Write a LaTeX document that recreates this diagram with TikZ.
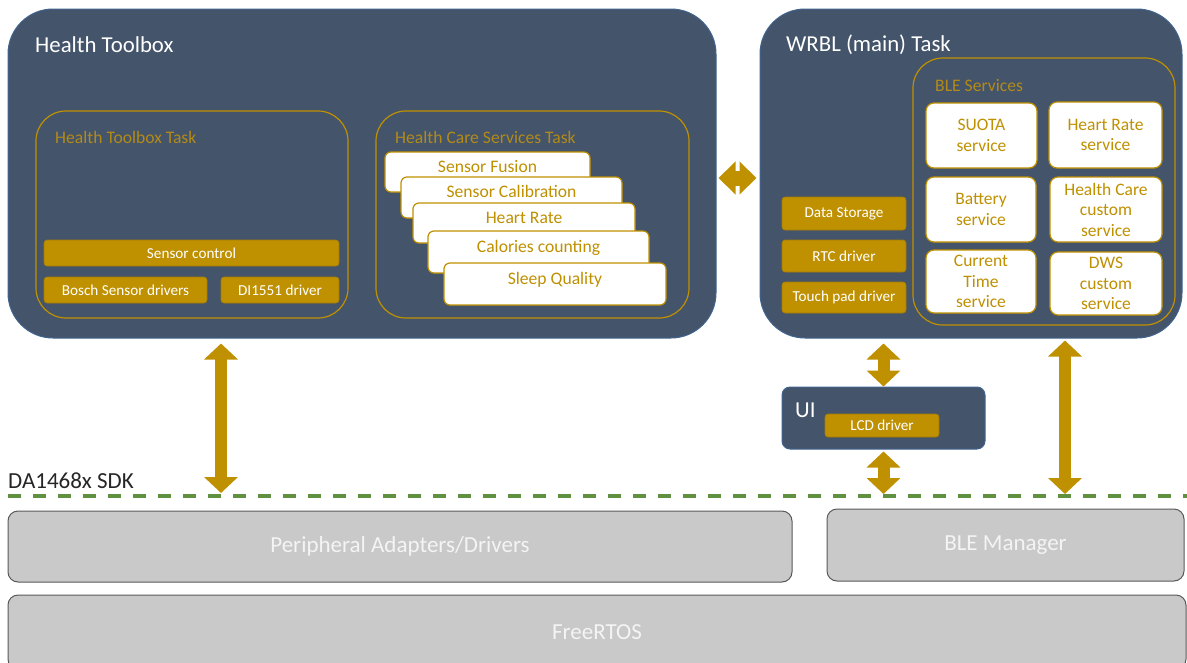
\documentclass[tikz,border=0pt]{standalone}
\usepackage{fontspec}
\setmainfont{Carlito}
\usetikzlibrary{arrows.meta,calc}
\definecolor{slate}{HTML}{44546A}
\definecolor{slateedge}{HTML}{41648F}
\definecolor{gold}{HTML}{BF9000}
\definecolor{goldedge}{HTML}{A37B00}
\definecolor{goldtext}{HTML}{B38A17}
\definecolor{sdkgreen}{HTML}{5F9140}
\definecolor{grayfill}{HTML}{C9C9C9}
\definecolor{grayedge}{HTML}{595959}
\definecolor{graytext}{HTML}{F4F4F4}
\newcommand{\fs}[2]{\fontsize{#1}{#2}\selectfont}
\begin{document}
\begin{tikzpicture}[x=1pt,y=-1pt,
  darkbox/.style={draw=slateedge, line width=1pt, fill=slate, rounded corners=#1, inner sep=0pt},
  taskbox/.style={draw=gold, line width=1.2pt, rounded corners=30pt, inner sep=0pt},
  ttl/.style={text=white, font=\fs{22.8}{26}, inner sep=0pt, anchor=west},
  goldlbl/.style={text=goldtext, font=\fs{17.6}{20}, inner sep=0pt, anchor=west},
  goldbar/.style={fill=gold, draw=goldedge, line width=0.6pt, rounded corners=3pt, text=white, font=\fs{15.2}{17}, inner sep=0pt},
  stackbox/.style={fill=white, draw=gold, line width=1.2pt, rounded corners=6pt, text=gold, font=\fs{17.6}{20}, text height=12pt, text depth=12pt, inner sep=0pt},
  svcbox/.style={fill=white, draw=gold, line width=1.2pt, rounded corners=8pt, text=gold, font=\fs{17.5}{20.5}, align=center, inner sep=0pt},
  graybox/.style={fill=grayfill, draw=grayedge, line width=1pt, rounded corners=10pt, text=graytext, font=\fs{23}{26}, inner sep=0pt},
  barrow/.style={draw=gold, line width=12pt, {Triangle[width=33pt,length=16pt]}-{Triangle[width=33pt,length=16pt]}},
  harrow/.style={draw=gold, line width=15pt, {Triangle[width=32pt,length=17pt]}-{Triangle[width=32pt,length=17pt]}},
  sdkline/.style={draw=sdkgreen, line width=3.5pt, dash pattern=on 13pt off 12pt}
]
\useasboundingbox (0,0) rectangle (1187,662);
\clip (0,0) rectangle (1187,662);

% Health Toolbox
\node[darkbox=45pt, minimum width=708pt, minimum height=329pt] (ht) at (362,173.5) {};
\node[ttl] (httl) at (35,45) {Health Toolbox};
\node[taskbox, minimum width=312pt, minimum height=207pt] (htt) at (192,214.5) {};
\node[goldlbl] (httl2) at (55,137) {Health Toolbox Task};
\node[goldbar, minimum width=295pt, minimum height=26pt] (sc) at (191.5,253) {Sensor control};
\node[goldbar, minimum width=163pt, minimum height=26pt] (bsd) at (125.5,290) {Bosch Sensor drivers};
\node[goldbar, minimum width=118pt, minimum height=26pt] (di) at (280,290) {DI1551 driver};

\node[taskbox, minimum width=313pt, minimum height=207pt] (hcs) at (532.5,214.5) {};
\node[goldlbl] (hcsl) at (395,137) {Health Care Services Task};
\node[stackbox, minimum width=205pt, minimum height=40pt] (sf) at (487.5,172) {Sensor Fusion};
\node[stackbox, minimum width=221pt, minimum height=41pt] (scal) at (511.5,197.5) {Sensor Calibration};
\node[stackbox, minimum width=222pt, minimum height=40pt] (hr) at (524,223) {Heart Rate};
\node[stackbox, minimum width=221pt, minimum height=42pt] (cc) at (538.5,252) {Calories counting};
\node[stackbox, minimum width=222pt, minimum height=42pt] (sq) at (555,284) {Sleep Quality};

% WRBL
\node[darkbox=45pt, minimum width=422pt, minimum height=329pt] (wrbl) at (971,173.5) {};
\node[ttl] (wrbll) at (786,45) {WRBL (main) Task};
\node[taskbox, minimum width=262pt, minimum height=267pt] (ble) at (1044,191.5) {};
\node[goldlbl] (blel) at (935,86) {BLE Services};
\node[svcbox, minimum width=111pt, minimum height=65pt] (suota) at (981.5,135.5) {SUOTA\\service};
\node[svcbox, minimum width=113pt, minimum height=66pt] (hrs) at (1105.5,135) {Heart Rate\\service};
\node[svcbox, minimum width=110pt, minimum height=65pt] (bat) at (981,209.5) {Battery\\service};
\node[svcbox, minimum width=112pt, minimum height=65pt] (hcc) at (1106,209.5) {Health Care\\custom\\service};
\node[svcbox, minimum width=110pt, minimum height=63pt] (cts) at (981,281.5) {Current\\Time\\service};
\node[svcbox, minimum width=112pt, minimum height=63pt] (dws) at (1106,283.5) {DWS\\custom\\service};
\node[goldbar, minimum width=124pt, minimum height=33pt] (ds) at (844,213.5) {Data Storage};
\node[goldbar, minimum width=124pt, minimum height=32pt] (rtc) at (844,256) {RTC driver};
\node[goldbar, minimum width=124pt, minimum height=31pt] (tp) at (844,297.5) {Touch pad driver};

% UI
\node[darkbox=8pt, minimum width=203pt, minimum height=62pt] (ui) at (883.5,418) {};
\node[ttl] (uil) at (795,410) {UI};
\node[goldbar, minimum width=114pt, minimum height=23pt] (lcd) at (882,425.5) {LCD driver};

% SDK line
\coordinate (sdk) at (8,496);
\coordinate (sdkend) at (1190,496);
\draw[sdkline] (sdk) -- (sdkend);
\node[anchor=west, font=\fs{23}{26}, text=black!85, inner sep=0pt] (sdkl) at (8,481) {DA1468x SDK};

% Gray layers
\node[graybox, minimum width=784pt, minimum height=71pt] (pad) at (400,546.5) {Peripheral Adapters/Drivers};
\node[graybox, minimum width=357pt, minimum height=72pt] (blem) at (1005.5,545) {BLE Manager};
\node[graybox, minimum width=1178pt, minimum height=74pt] (rtos) at (597,632) {FreeRTOS};

% Arrows
\coordinate (xa) at (221,0);
\coordinate (xr) at (1065,0);
\coordinate (hy) at (0,178);
\draw[barrow] ([yshift=-5pt]ht.south -| xa) -- ([yshift=3pt]sdk -| xa);
\draw[barrow] ([yshift=-5pt]wrbl.south -| ui.north) -- (ui.north);
\draw[barrow] ([yshift=-2pt]ui.south) -- ([yshift=2pt]sdk -| ui.south);
\draw[barrow] ([yshift=-2pt]wrbl.south -| xr) -- ([yshift=2pt]sdk -| xr);
\draw[harrow] ([xshift=2pt]ht.east |- hy) -- ([xshift=-3pt]wrbl.west |- hy);
\end{tikzpicture}
\end{document}
